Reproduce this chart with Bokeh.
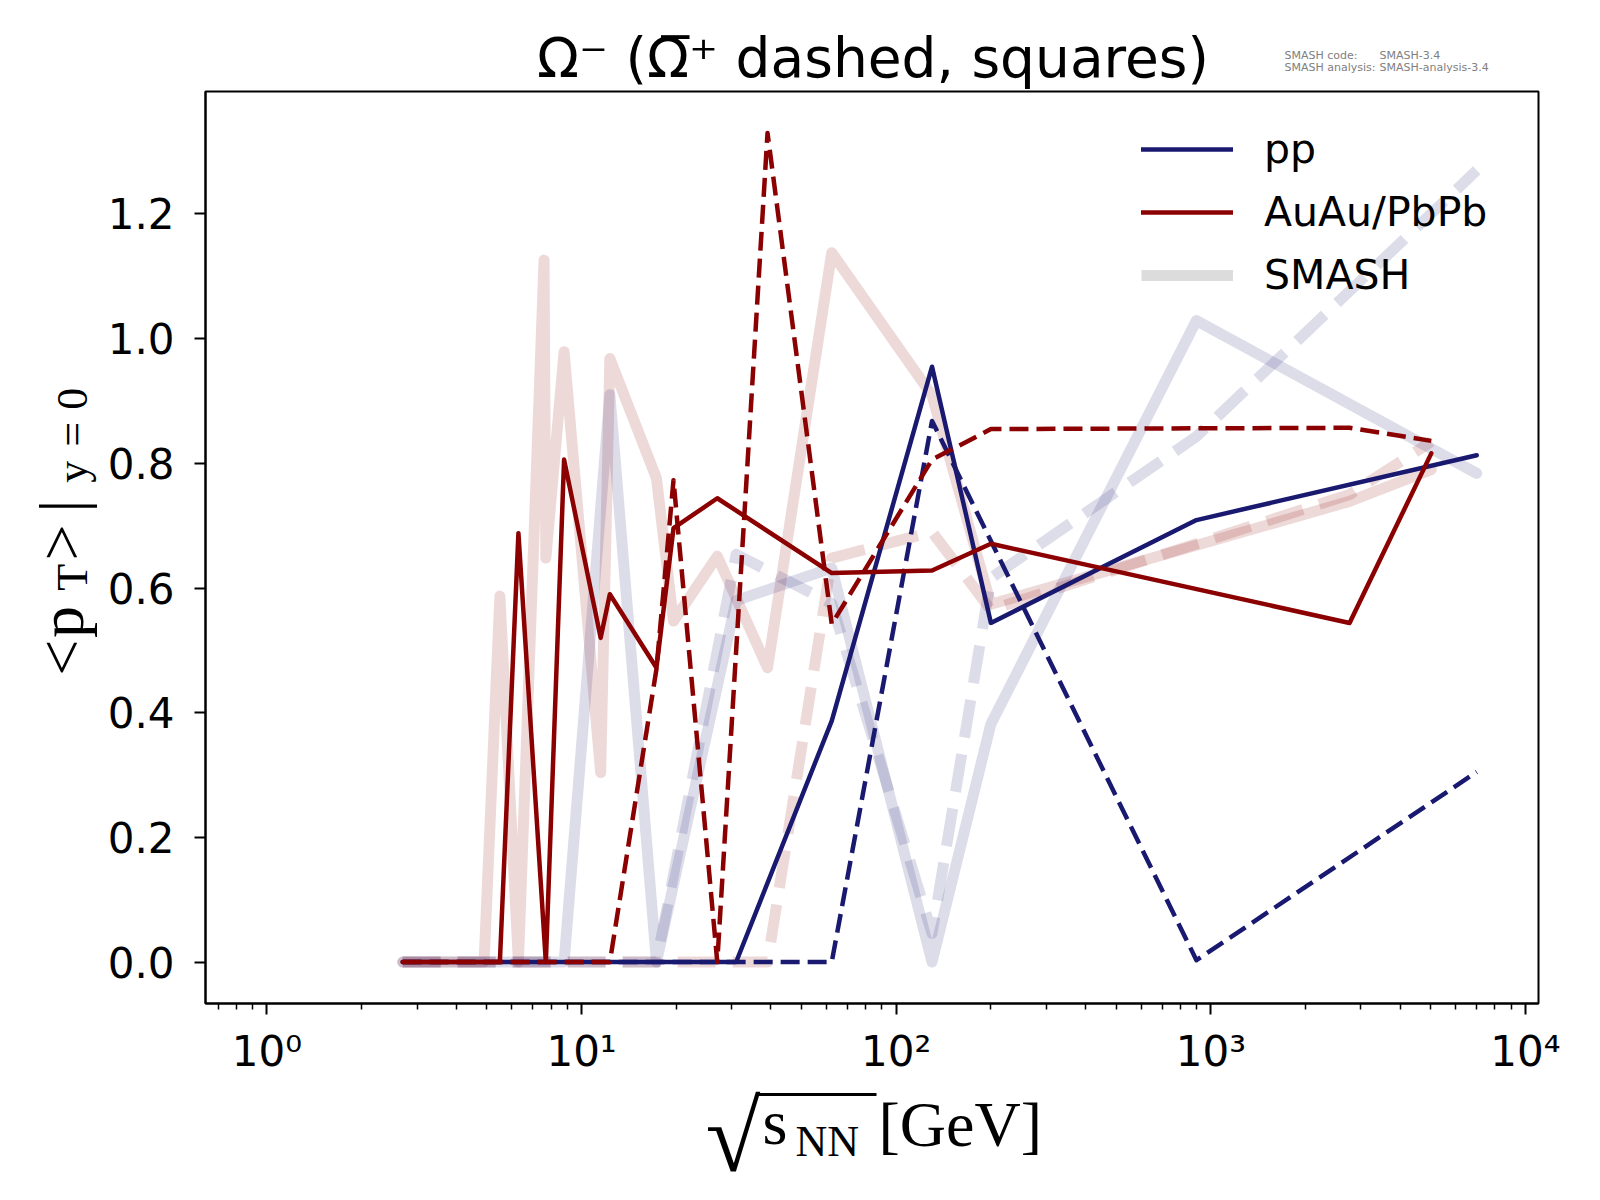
import math
from bokeh.plotting import figure
from bokeh.layouts import column, row
from bokeh.models import (Range1d, FixedTicker, Legend, LegendItem, PrintfTickFormatter)
from bokeh.core.properties import value
from bokeh.embed import file_html
from bokeh.resources import INLINE

# ---------------- data (sqrt(s_NN) in GeV, <pT> at y=0 in GeV) ----------------
pp_x = [2.7, 31, 62.4, 130, 200, 900, 7000]
pp_y = [0.0, 0.0, 0.387, 0.955, 0.544, 0.709, 0.813]

pp_anti_x = [2.7, 62.4, 130, 900, 7000]
pp_anti_y = [0.0, 0.0, 0.868, 0.003, 0.305]

aa_x = [2.7, 5.5, 6.3, 7.7, 8.8, 11.5, 12.3, 17.3, 19.6, 27, 62.4, 130, 200, 2760, 5020]
aa_y = [0.0, 0.0, 0.688, 0.0, 0.806, 0.52, 0.59, 0.472, 0.696, 0.744, 0.624, 0.628, 0.671, 0.544, 0.816]

aa_anti_x = [2.7, 12.3, 17.3, 19.6, 27, 39, 62.4, 130, 200, 2760, 5020]
aa_anti_y = [0.0, 0.0, 0.47, 0.773, 0.0, 1.33, 0.542, 0.806, 0.855, 0.857, 0.836]

smash_pp_x = [2.7, 8.8, 12.3, 17.3, 31, 62.4, 130, 200, 900, 7000]
smash_pp_y = [0.0, 0.0, 0.91, 0.0, 0.58, 0.632, 0.0, 0.382, 1.029, 0.784]

smash_pp_anti_x = [2.7, 17.3, 31, 62.4, 130, 200, 900, 7000]
smash_pp_anti_y = [0.0, 0.0, 0.654, 0.575, 0.046, 0.616, 0.843, 1.27]

smash_aa_x = [2.7, 4.9, 5.5, 6.3, 7.6, 7.7, 8.8, 11.5, 12.3, 17.3, 19.6, 27, 39, 62.4, 130, 200, 2760, 5020]
smash_aa_y = [0.0, 0.0, 0.587, 0.0, 1.126, 0.648, 0.979, 0.304, 0.968, 0.776, 0.547, 0.651, 0.472, 1.138, 0.909, 0.574, 0.739, 0.79]

smash_aa_anti_x = [2.7, 39, 62.4, 130, 200, 2760, 5020]
smash_aa_anti_y = [0.0, 0.0, 0.648, 0.69, 0.565, 0.75, 0.835]

x_major_ticks = [1, 10, 100, 1000, 10000]
x_tick_labels = ["10\u2070", "10\u00b9", "10\u00b2", "10\u00b3", "10\u2074"]
y_major_ticks = [0.0, 0.2, 0.4, 0.6, 0.8, 1.0, 1.2]

legend_labels = ["pp", "AuAu/PbPb", "SMASH"]
title_text = "\u03a9\u207b (\u03a9\u0305\u207a dashed, squares)"
note_keys = ["SMASH code:", "SMASH analysis:"]
note_vals = ["SMASH-3.4", "SMASH-analysis-3.4"]

NAVY = "#191970"
DRED = "#8b0000"
SERIF = "Liberation Serif"
SANS = "DejaVu Sans"

# ---------------- geometry (page pixels) ----------------
W = 1584
TOP_H = 90          # title strip
YL_W = 100          # y-label strip
MAIN_BL, MAIN_BR, MAIN_BT, MAIN_BB = 105, 46, 1, 73
FRAME_W, FRAME_H = 1333, 912
MAIN_H = MAIN_BT + FRAME_H + MAIN_BB
XL_H = 120

# ---------------- main plot ----------------
p = figure(x_axis_type="log", x_range=Range1d(0.638, 11000), y_range=Range1d(-0.0665, 1.3965),
           frame_width=FRAME_W, frame_height=FRAME_H,
           min_border_left=MAIN_BL, min_border_right=MAIN_BR,
           min_border_top=MAIN_BT, min_border_bottom=MAIN_BB,
           output_backend="svg", toolbar_location=None,
           background_fill_color="white", border_fill_color="white")
p.grid.visible = False
p.outline_line_color = "black"
p.outline_line_width = 2

def add_line(xs, ys, color, width, alpha, dash):
    cap = "round" if dash == "solid" else "butt"
    return p.line(xs, ys, line_color=color, line_width=width, line_alpha=alpha,
                  line_dash=dash, line_join="round", line_cap=cap)

SM_W, SM_A, SM_DASH = 11, 0.15, "38 17"
add_line(smash_aa_x, smash_aa_y, DRED, SM_W, SM_A, "solid")
add_line(smash_aa_anti_x, smash_aa_anti_y, DRED, SM_W, SM_A, SM_DASH)
add_line(smash_pp_x, smash_pp_y, NAVY, SM_W, SM_A, "solid")
add_line(smash_pp_anti_x, smash_pp_anti_y, NAVY, SM_W, SM_A, SM_DASH)

D_W, D_DASH = 4.5, "19 8"
r_pp = add_line(pp_x, pp_y, NAVY, D_W, 1.0, "solid")
add_line(pp_anti_x, pp_anti_y, NAVY, D_W, 1.0, D_DASH)
r_aa = add_line(aa_x, aa_y, DRED, D_W, 1.0, "solid")
add_line(aa_anti_x, aa_anti_y, DRED, D_W, 1.0, D_DASH)

r_sm = p.line(x=[math.nan, math.nan], y=[math.nan, math.nan],
              line_color="gray", line_alpha=0.28, line_width=11)

minor = [k * 10.0 ** d for d in range(-1, 5) for k in range(2, 10)]
p.xaxis.ticker = FixedTicker(ticks=x_major_ticks, minor_ticks=minor)
p.xaxis.major_label_overrides = {t: s for t, s in zip(x_major_ticks, x_tick_labels)}
p.yaxis.ticker = FixedTicker(ticks=y_major_ticks)
p.yaxis.formatter = PrintfTickFormatter(format="%.1f")
for ax in (p.xaxis, p.yaxis):
    ax.axis_line_width = 2
    ax.axis_line_color = "black"
    ax.major_tick_line_width = 2
    ax.major_tick_out = 11
    ax.major_tick_in = 0
    ax.minor_tick_line_width = 1.5
    ax.minor_tick_out = 6
    ax.minor_tick_in = 0
    ax.major_label_text_font = SANS
    ax.major_label_text_font_size = "42px"
    ax.major_label_text_color = "black"
p.yaxis.minor_tick_line_color = None
p.xaxis.major_label_standoff = 12
p.yaxis.major_label_standoff = 20

legend = Legend(items=[LegendItem(label=legend_labels[0], renderers=[r_pp]),
                       LegendItem(label=legend_labels[1], renderers=[r_aa]),
                       LegendItem(label=legend_labels[2], renderers=[r_sm])],
                location=(936, FRAME_H - 208), padding=0, margin=0, spacing=15,
                glyph_width=92, glyph_height=44, label_height=44, label_standoff=31,
                label_text_font=SANS, label_text_font_size="41px", label_text_color="black",
                border_line_alpha=0, background_fill_alpha=0)
p.add_layout(legend)

# ---------------- helper strips holding the texts outside the frame ----------------
def strip(w, h):
    f = figure(width=w, height=h, x_range=Range1d(0, w), y_range=Range1d(h, 0),
               min_border=0, x_axis_location=None, y_axis_location=None,
               toolbar_location=None, output_backend="svg", outline_line_color=None,
               background_fill_color="white", border_fill_color="white")
    f.grid.visible = False
    return f

BASE_SHIFT = 0.35    # measured baseline offset of text glyphs (fraction of font size)
ROT_FWD = 0.61       # measured forward offset of rotated text glyphs
ROT_SIDE = 0.30

def txt(f, items, font, px, color="black", align="left"):
    # items: (x, baseline_y, text) in strip pixels
    f.text(x=[i[0] for i in items], y=[i[1] - BASE_SHIFT * px for i in items],
           text=[i[2] for i in items],
           text_font=value(font), text_font_size=value(f"{px}px"), text_color=value(color),
           text_align=value(align), text_baseline=value("alphabetic"))

def vtxt(f, items, font, px):
    # items: (baseline_x, start_y, text), text running upwards
    f.text(x=[i[0] - ROT_SIDE * px for i in items], y=[i[1] + ROT_FWD * px for i in items],
           text=[i[2] for i in items],
           text_font=value(font), text_font_size=value(f"{px}px"), text_color=value("black"),
           text_align=value("left"), text_baseline=value("alphabetic"), angle=math.pi / 2)

# title strip (page y 0..90)
top = strip(W, TOP_H)
txt(top, [(872.5, 77, title_text)], SANS, 55, align="center")
txt(top, [(1284, 59, note_keys[0]), (1379, 59, note_vals[0]),
          (1284, 71, note_keys[1]), (1379, 71, note_vals[1])], SANS, 11, color="gray")

# y-label strip (page x 0..100, page y from TOP_H)
yl = strip(YL_W, MAIN_H)
oy = TOP_H
vtxt(yl, [(80, 684 - oy, "<"), (80, 643 - oy, "p"), (80, 559 - oy, ">"), (80, 507 - oy, "|")],
     SERIF, 64)
vtxt(yl, [(85, 604 - oy, "T"), (85, 487 - oy, "y"), (85, 448 - oy, "="), (85, 408 - oy, "0")],
     SERIF, 44)

# x-label strip (page y from TOP_H + MAIN_H)
xl = strip(W, XL_H)
ox = TOP_H + MAIN_H
txt(xl, [(705, 1170 - ox, "\u221a")], SERIF, 100)
xl.segment(x0=[758], y0=[1092 - ox], x1=[876], y1=[1092 - ox], line_width=3, line_color="black")
txt(xl, [(762, 1142 - ox, "s"), (878, 1144 - ox, "[GeV]")], SERIF, 64)
txt(xl, [(795, 1154 - ox, "NN")], SERIF, 44)

layout = column(top, row(yl, p), xl)
open("out.html", "w").write(file_html(layout, INLINE))
